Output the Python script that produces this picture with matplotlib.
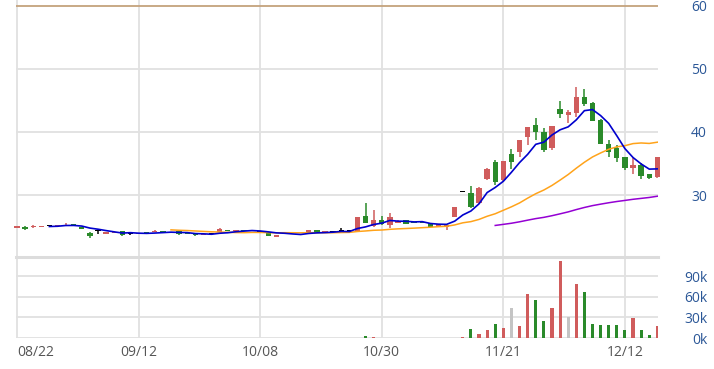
import numpy as np
import pandas as pd
import matplotlib
matplotlib.use('Agg')
import matplotlib.pyplot as plt

# daily candles, one entry per trading day (80 days)
opens = [24.75, 25.00, 24.85, 25.00, 25.15, 25.10, 25.10, 25.40, 25.00, 24.00,
         24.35, 23.85, 24.00, 24.25, 23.85, 23.85, 24.20, 24.10, 24.30, 24.05,
         24.35, 23.95, 23.90, 23.65, 23.85, 24.20, 24.45, 24.30, 24.40, 24.25,
         24.20, 23.90, 23.35, 23.85, 23.85, 23.75, 23.80, 24.40, 24.10, 24.10,
         24.35, 24.30, 24.35, 26.67, 25.10, 26.10, 25.25, 25.60, 26.00, 25.75,
         25.75, 25.50, 25.00, 25.00, 26.56, 30.50, 30.37, 28.67, 32.50, 35.20,
         32.40, 36.50, 36.87, 39.25, 41.10, 40.05, 37.40, 43.59, 42.70, 43.07,
         45.50, 44.55, 41.90, 38.09, 37.40, 35.98, 34.23, 34.76, 33.27, 32.80]
highs = [25.10, 25.05, 25.20, 25.10, 25.15, 25.25, 25.60, 25.40, 25.00, 24.05,
         24.35, 24.15, 24.10, 24.25, 23.85, 23.95, 24.20, 24.50, 24.30, 24.20,
         24.40, 23.95, 23.90, 23.80, 23.85, 24.70, 24.45, 24.40, 24.40, 24.30,
         24.20, 23.90, 23.60, 24.20, 23.85, 23.75, 24.40, 24.40, 24.20, 24.10,
         24.75, 24.30, 26.50, 28.70, 27.60, 26.60, 27.10, 26.00, 26.05, 25.75,
         25.75, 25.50, 25.40, 25.30, 28.10, 30.50, 31.40, 31.30, 34.23, 35.60,
         35.40, 37.30, 38.73, 40.74, 42.30, 40.70, 40.95, 44.97, 43.50, 47.20,
         46.80, 44.70, 42.00, 38.70, 37.90, 35.98, 35.80, 35.00, 33.40, 36.00]
lows = [24.70, 24.50, 24.80, 25.00, 25.15, 25.10, 25.05, 25.10, 24.55, 23.15,
        23.80, 23.85, 24.00, 23.50, 23.60, 23.85, 24.00, 24.10, 23.95, 24.05,
        23.70, 23.85, 23.55, 23.65, 23.85, 24.20, 24.25, 24.30, 24.30, 24.25,
        24.20, 23.50, 23.30, 23.85, 23.75, 23.75, 23.80, 24.05, 24.10, 24.10,
        24.35, 24.30, 24.30, 25.50, 25.00, 25.30, 24.70, 25.50, 25.35, 25.50,
        25.60, 25.00, 25.00, 24.40, 26.50, 30.50, 28.00, 28.50, 32.40, 31.60,
        32.30, 34.20, 36.00, 37.90, 38.70, 36.80, 37.10, 42.20, 41.40, 42.40,
        44.20, 41.80, 38.09, 36.10, 35.30, 33.96, 33.30, 32.50, 32.60, 32.70]
closes = [25.05, 24.65, 25.05, 25.10, 25.15, 25.25, 25.25, 25.10, 24.60, 23.55,
          24.35, 24.15, 24.10, 23.65, 23.85, 23.95, 24.00, 24.35, 24.00, 24.20,
          23.75, 23.85, 23.60, 23.80, 23.85, 24.55, 24.25, 24.40, 24.30, 24.30,
          24.20, 23.55, 23.60, 24.00, 23.75, 23.75, 24.40, 24.05, 24.20, 24.10,
          24.35, 24.30, 26.45, 25.50, 26.00, 25.40, 26.45, 25.90, 25.40, 25.50,
          25.60, 25.00, 25.35, 25.25, 28.05, 30.50, 28.14, 31.05, 34.20, 32.10,
          35.40, 35.30, 38.73, 40.74, 40.05, 37.14, 40.95, 42.85, 43.10, 45.60,
          44.44, 41.80, 38.09, 36.87, 35.80, 34.23, 34.76, 33.00, 32.75, 36.00]

# volume in thousands, and its colour code (u = up, d = down, n = unchanged)
volume_k = [0] * 43 + [3.5, 1.0] + [0] * 10 + \
    [1.0, 13.0, 5.8, 11.7, 20.5, 15.0, 44.0, 17.0, 65.0, 55.6,
     24.9, 44.4, 112.7, 31.0, 79.5, 66.8, 20.5, 18.5, 18.5, 18.5,
     11.7, 29.7, 11.7, 4.4, 17.0]
vol_dir = list("d" * 43 + "du" + "d" * 10) + \
    list("uduudunuud") + list("duunuddddd") + list("duddu")

tick_pos = [0, 15, 30, 45, 60, 75]
tick_labels = ['08/22', '09/12', '10/08', '10/30', '11/21', '12/12']
price_ticks = [30, 40, 50, 60]
vol_ticks = [0, 30, 60, 90]

up_c = '#d05c5c'
dn_c = '#2a8a2a'
grid_c = '#e1e1e1'
lab_c = '#2b5797'

plt.rcParams['font.family'] = ['Open Sans', 'DejaVu Sans']

o = np.array(opens); h = np.array(highs); l = np.array(lows); c = np.array(closes)
x = np.arange(len(c))
ma5 = pd.Series(c).rolling(5).mean()
ma20 = pd.Series(c).rolling(20).mean()
ma60 = pd.Series(c).rolling(60).mean()

fig = plt.figure(figsize=(7.14, 3.69), dpi=100)
ax = fig.add_axes([16/714, 1-257/369, 642/714, 257/369])
axv = fig.add_axes([16/714, 31/369, 642/714, 81/369])

for a in (ax, axv):
    for s in a.spines.values():
        s.set_visible(False)
    a.set_xlim(-0.12, 79.08)
    for t in tick_pos:
        a.axvline(t, color=grid_c, lw=1.3, zorder=0)

# price panel
ax.set_ylim(20.16, 60.95)
for v in price_ticks[:-1]:
    ax.axhline(v, color=grid_c, lw=1.3, zorder=0)
ax.axhline(60, color='#c4a27c', lw=1.3, zorder=0)

cols = []
for i in range(len(c)):
    if abs(c[i]-o[i]) < 1e-9:
        cols.append('black')
    elif c[i] > o[i]:
        cols.append(up_c)
    else:
        cols.append(dn_c)
ax.vlines(x, l, h, colors=cols, lw=1.1, zorder=2, clip_on=False)
body_h = np.maximum(np.abs(c-o), 0.12)
ax.bar(x, body_h, bottom=np.minimum(o, c), width=0.66, color=cols, zorder=2, clip_on=False)

ax.plot(x, ma60, color='#9400d3', lw=1.1, zorder=3)
ax.plot(x, ma20, color='#ffa31a', lw=1.1, zorder=3)
ax.plot(x, ma5, color='#0000cd', lw=1.2, zorder=3)

ax.set_xticks([])
ax.yaxis.tick_right()
ax.set_yticks(price_ticks)
ax.set_yticklabels([str(v) for v in price_ticks])
ax.tick_params(axis='y', length=0, pad=35.3, labelcolor=lab_c, labelsize=10)
for lab in ax.get_yticklabels():
    lab.set_horizontalalignment('right')

# volume panel
axv.set_ylim(0, 118.5)
for v in vol_ticks:
    axv.axhline(v, color=grid_c, lw=1.3, zorder=0)
axv.axhline(118.5, color='#dcdcdc', lw=2.2, zorder=0, clip_on=False)
vcol = {'u': up_c, 'd': dn_c, 'n': '#c4c4c4'}
axv.bar(x, volume_k, width=0.38, color=[vcol[d] for d in vol_dir], zorder=2)

axv.yaxis.tick_right()
axv.set_yticks(vol_ticks)
axv.set_yticklabels(['{}k'.format(v) for v in vol_ticks])
axv.tick_params(axis='y', length=0, pad=35.3, labelcolor=lab_c, labelsize=10)
for lab in axv.get_yticklabels():
    lab.set_horizontalalignment('right')

axv.set_xticks(tick_pos)
axv.set_xticklabels(tick_labels)
axv.tick_params(axis='x', length=0, pad=5, labelcolor='#555555', labelsize=10)
axv.get_xticklabels()[0].set_horizontalalignment('left')

fig.savefig('out.png', dpi=100)
